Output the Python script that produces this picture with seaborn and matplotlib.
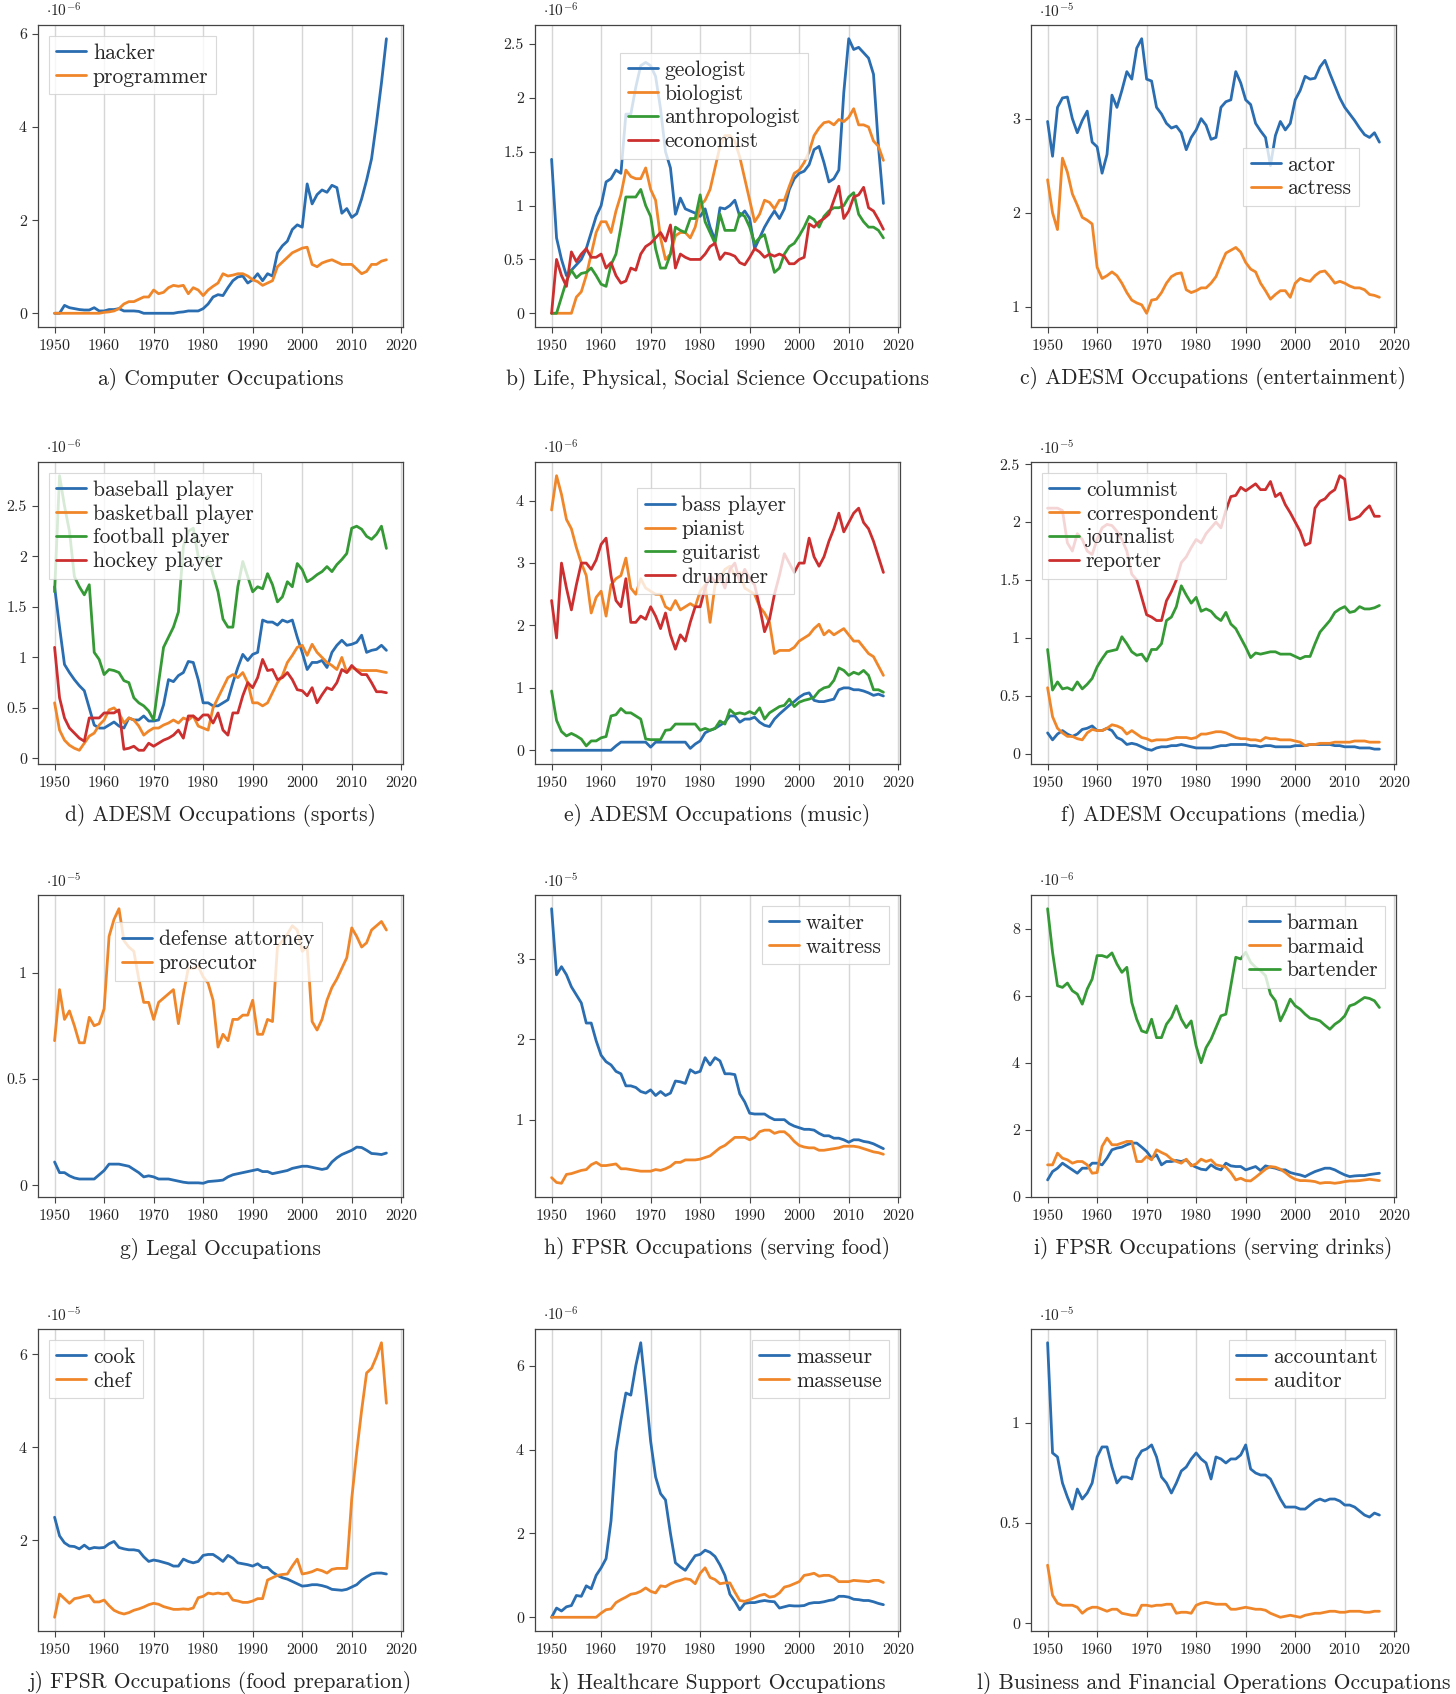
import numpy as np
import pandas as pd
import matplotlib
matplotlib.use("Agg")
import matplotlib.pyplot as plt
import seaborn as sns
from matplotlib.ticker import MultipleLocator, FuncFormatter

years = list(range(1950, 2018))

# ---------------- data (values in units of the panel multiplier) ----------------
hacker = [0, 0, 0.17, 0.12, 0.1, 0.08, 0.07, 0.07, 0.12, 0.05,
          0.05, 0.08, 0.08, 0.1, 0.05, 0.05, 0.05, 0.04, 0.0, 0.0,
          0.0, 0.0, 0.0, 0.0, 0.0, 0.02, 0.03, 0.05, 0.05, 0.05,
          0.1, 0.2, 0.35, 0.4, 0.38, 0.55, 0.7, 0.78, 0.8, 0.65,
          0.72, 0.85, 0.7, 0.85, 0.8, 1.3, 1.45, 1.55, 1.8, 1.9,
          1.85, 2.78, 2.35, 2.55, 2.65, 2.6, 2.75, 2.7, 2.15, 2.25,
          2.06, 2.14, 2.46, 2.86, 3.32, 4.1, 4.95, 5.9]
programmer = [0, 0, 0, 0, 0, 0, 0, 0, 0, 0,
              0.02, 0.03, 0.05, 0.1, 0.2, 0.25, 0.25, 0.3, 0.35, 0.35,
              0.5, 0.42, 0.45, 0.55, 0.6, 0.58, 0.6, 0.42, 0.55, 0.5,
              0.38, 0.5, 0.58, 0.65, 0.85, 0.8, 0.82, 0.85, 0.85, 0.8,
              0.72, 0.68, 0.6, 0.65, 0.7, 1.0, 1.1, 1.2, 1.3, 1.35,
              1.4, 1.42, 1.05, 1.0, 1.08, 1.12, 1.15, 1.1, 1.05, 1.05,
              1.05, 0.95, 0.85, 0.9, 1.05, 1.05, 1.12, 1.15]

geologist = [1.43, 0.7, 0.5, 0.35, 0.4, 0.45, 0.5, 0.6, 0.75, 0.9,
             1.0, 1.22, 1.25, 1.33, 1.3, 1.85, 1.85, 2.1, 2.3, 2.33,
             2.3, 2.2, 1.9, 1.5, 1.35, 0.92, 1.07, 0.97, 0.95, 0.93,
             0.9, 0.97, 0.8, 0.68, 0.98, 0.97, 1.0, 1.05, 0.9, 0.95,
             0.88, 0.6, 0.7, 0.8, 0.88, 0.95, 0.88, 0.97, 1.15, 1.25,
             1.3, 1.32, 1.38, 1.52, 1.55, 1.4, 1.22, 1.25, 1.33, 2.05,
             2.55, 2.45, 2.47, 2.42, 2.37, 2.22, 1.55, 1.02]
biologist = [0, 0, 0, 0, 0, 0.15, 0.2, 0.35, 0.55, 0.75,
             0.85, 0.85, 0.75, 0.95, 1.1, 1.33, 1.27, 1.25, 1.25, 1.35,
             1.15, 1.05, 0.7, 0.5, 0.55, 0.72, 0.75, 0.75, 0.7, 0.8,
             1.0, 1.05, 1.15, 1.35, 1.55, 1.65, 1.65, 1.6, 1.45, 1.25,
             1.05, 0.85, 0.92, 1.05, 1.03, 0.97, 1.05, 1.05, 1.18, 1.3,
             1.33, 1.4, 1.5, 1.65, 1.72, 1.77, 1.78, 1.75, 1.8, 1.78,
             1.82, 1.9, 1.75, 1.75, 1.73, 1.6, 1.55, 1.42]
anthropologist = [0, 0, 0.15, 0.3, 0.4, 0.33, 0.37, 0.38, 0.42, 0.35,
                  0.27, 0.25, 0.45, 0.55, 0.8, 1.08, 1.08, 1.08, 1.15, 1.0,
                  0.9, 0.6, 0.42, 0.42, 0.55, 0.8, 0.77, 0.75, 0.88, 0.88,
                  1.1, 0.85, 0.75, 0.65, 0.92, 0.77, 0.77, 0.77, 0.93, 0.9,
                  0.8, 0.65, 0.7, 0.73, 0.55, 0.38, 0.42, 0.55, 0.62, 0.65,
                  0.72, 0.8, 0.9, 0.87, 0.8, 0.9, 0.95, 0.98, 0.98, 1.0,
                  1.08, 1.12, 0.92, 0.85, 0.8, 0.8, 0.77, 0.7]
economist = [0, 0.5, 0.35, 0.25, 0.57, 0.48, 0.55, 0.6, 0.52, 0.52,
             0.55, 0.42, 0.47, 0.35, 0.28, 0.3, 0.42, 0.4, 0.55, 0.62,
             0.65, 0.7, 0.75, 0.67, 0.82, 0.42, 0.55, 0.52, 0.5, 0.5,
             0.5, 0.55, 0.62, 0.65, 0.5, 0.56, 0.55, 0.53, 0.47, 0.45,
             0.52, 0.6, 0.57, 0.52, 0.55, 0.53, 0.55, 0.53, 0.46, 0.46,
             0.5, 0.52, 0.83, 0.8, 0.85, 0.88, 0.92, 1.05, 1.18, 0.88,
             0.95, 1.08, 1.1, 1.17, 0.98, 0.95, 0.87, 0.78]

actor = [2.97, 2.6, 3.12, 3.22, 3.23, 3.0, 2.85, 2.98, 3.08, 2.75,
         2.7, 2.42, 2.62, 3.25, 3.12, 3.3, 3.5, 3.42, 3.75, 3.85,
         3.42, 3.4, 3.12, 3.05, 2.95, 2.9, 2.92, 2.85, 2.67, 2.8,
         2.88, 3.0, 2.93, 2.78, 2.8, 3.12, 3.18, 3.2, 3.5, 3.38,
         3.2, 3.15, 2.95, 2.87, 2.8, 2.5, 2.82, 2.97, 2.88, 2.95,
         3.2, 3.3, 3.45, 3.42, 3.43, 3.55, 3.62, 3.48, 3.35, 3.22,
         3.12, 3.05, 2.98, 2.9, 2.83, 2.8, 2.85, 2.75]
actress = [2.35, 2.0, 1.82, 2.58, 2.43, 2.2, 2.08, 1.95, 1.92, 1.88,
           1.42, 1.3, 1.33, 1.37, 1.33, 1.25, 1.15, 1.07, 1.04, 1.02,
           0.93, 1.07, 1.08, 1.15, 1.25, 1.32, 1.35, 1.36, 1.18, 1.15,
           1.17, 1.2, 1.2, 1.25, 1.32, 1.45, 1.57, 1.6, 1.63, 1.58,
           1.47, 1.4, 1.37, 1.25, 1.17, 1.08, 1.13, 1.17, 1.17, 1.1,
           1.25, 1.3, 1.28, 1.27, 1.33, 1.37, 1.38, 1.32, 1.25, 1.27,
           1.25, 1.22, 1.2, 1.2, 1.18, 1.13, 1.12, 1.1]

baseball = [1.7, 1.3, 0.93, 0.85, 0.78, 0.72, 0.67, 0.5, 0.33, 0.3,
            0.3, 0.33, 0.36, 0.32, 0.3, 0.4, 0.38, 0.38, 0.42, 0.37,
            0.37, 0.38, 0.53, 0.78, 0.76, 0.82, 0.85, 0.96, 0.95, 0.78,
            0.55, 0.55, 0.52, 0.52, 0.55, 0.58, 0.75, 0.9, 1.03, 0.97,
            1.03, 1.05, 1.37, 1.35, 1.35, 1.32, 1.37, 1.35, 1.37, 1.2,
            1.05, 0.88, 0.95, 0.95, 0.97, 0.9, 1.05, 1.12, 1.17, 1.12,
            1.13, 1.15, 1.22, 1.05, 1.07, 1.08, 1.12, 1.07]
basketball = [0.55, 0.28, 0.18, 0.13, 0.1, 0.08, 0.15, 0.22, 0.25, 0.33,
              0.38, 0.48, 0.5, 0.45, 0.35, 0.4, 0.38, 0.32, 0.23, 0.27,
              0.3, 0.3, 0.33, 0.35, 0.38, 0.35, 0.4, 0.38, 0.42, 0.32,
              0.3, 0.28, 0.5, 0.6, 0.7, 0.8, 0.83, 0.8, 0.85, 0.75,
              0.55, 0.55, 0.52, 0.55, 0.65, 0.75, 0.82, 0.95, 1.02, 1.1,
              1.12, 1.02, 1.13, 1.05, 1.0, 0.95, 0.92, 0.88, 1.0, 0.85,
              0.9, 0.88, 0.87, 0.87, 0.87, 0.87, 0.86, 0.85]
football = [1.65, 2.8, 2.5, 2.25, 1.8, 1.7, 1.62, 1.72, 1.05, 0.98,
            0.83, 0.88, 0.87, 0.85, 0.77, 0.75, 0.6, 0.55, 0.52, 0.47,
            0.38, 0.75, 1.1, 1.2, 1.3, 1.45, 2.1, 2.25, 2.28, 2.0,
            1.97, 2.0, 1.82, 1.65, 1.38, 1.3, 1.3, 1.7, 1.95, 1.8,
            1.65, 1.7, 1.68, 1.83, 1.72, 1.55, 1.6, 1.75, 1.7, 1.93,
            1.87, 1.75, 1.78, 1.82, 1.85, 1.9, 1.85, 1.92, 1.97, 2.03,
            2.28, 2.3, 2.27, 2.2, 2.17, 2.22, 2.3, 2.08]
hockey = [1.1, 0.6, 0.4, 0.3, 0.25, 0.2, 0.17, 0.4, 0.4, 0.4,
          0.45, 0.45, 0.45, 0.48, 0.09, 0.1, 0.12, 0.08, 0.08, 0.15,
          0.12, 0.15, 0.18, 0.2, 0.23, 0.28, 0.2, 0.42, 0.42, 0.38,
          0.43, 0.43, 0.35, 0.45, 0.28, 0.23, 0.45, 0.45, 0.62, 0.75,
          0.7, 0.8, 0.98, 0.87, 0.88, 0.78, 0.8, 0.85, 0.78, 0.68,
          0.67, 0.62, 0.7, 0.55, 0.63, 0.7, 0.68, 0.75, 0.88, 0.85,
          0.92, 0.87, 0.83, 0.83, 0.75, 0.66, 0.66, 0.65]

bass_player = [0, 0, 0, 0, 0, 0, 0, 0, 0, 0,
               0, 0, 0, 0.07, 0.13, 0.13, 0.13, 0.13, 0.13, 0.13,
               0.05, 0.13, 0.13, 0.13, 0.13, 0.13, 0.13, 0.13, 0.03, 0.1,
               0.15, 0.28, 0.32, 0.35, 0.4, 0.45, 0.55, 0.55, 0.45, 0.5,
               0.5, 0.53, 0.45, 0.4, 0.38, 0.5, 0.58, 0.65, 0.72, 0.78,
               0.85, 0.9, 0.92, 0.8, 0.78, 0.78, 0.8, 0.82, 0.97, 1.0,
               1.0, 0.97, 0.97, 0.95, 0.92, 0.88, 0.9, 0.87]
pianist = [3.85, 4.4, 4.1, 3.7, 3.55, 3.25, 3.0, 2.8, 2.2, 2.45,
           2.55, 2.15, 2.65, 2.75, 2.8, 3.08, 2.6, 2.5, 2.75, 2.6,
           2.55, 2.5, 2.5, 2.3, 2.25, 2.4, 2.25, 2.3, 2.35, 2.3,
           2.55, 2.65, 2.05, 2.65, 2.75, 2.9, 2.95, 2.8, 2.85, 2.6,
           2.55, 2.5, 2.3, 2.2, 2.05, 1.55, 1.6, 1.6, 1.6, 1.65,
           1.75, 1.8, 1.85, 1.95, 2.02, 1.85, 1.92, 1.85, 1.9, 1.95,
           1.85, 1.75, 1.75, 1.65, 1.55, 1.5, 1.35, 1.2]
guitarist = [0.95, 0.48, 0.3, 0.23, 0.27, 0.23, 0.18, 0.07, 0.15, 0.15,
             0.2, 0.22, 0.55, 0.57, 0.67, 0.6, 0.6, 0.55, 0.5, 0.18,
             0.17, 0.17, 0.17, 0.32, 0.33, 0.42, 0.42, 0.42, 0.42, 0.42,
             0.32, 0.35, 0.32, 0.35, 0.47, 0.42, 0.65, 0.58, 0.6, 0.58,
             0.62, 0.58, 0.68, 0.5, 0.6, 0.65, 0.7, 0.72, 0.82, 0.7,
             0.77, 0.8, 0.82, 0.85, 0.95, 1.0, 1.02, 1.12, 1.32, 1.28,
             1.2, 1.25, 1.22, 1.28, 1.2, 0.97, 0.97, 0.93]
drummer = [2.4, 1.8, 3.0, 2.6, 2.25, 2.65, 3.0, 3.0, 2.9, 3.05,
           3.3, 3.4, 2.8, 2.4, 2.3, 2.75, 2.05, 2.05, 2.15, 2.1,
           2.3, 2.15, 1.95, 2.2, 1.85, 1.62, 1.85, 1.75, 2.05, 2.3,
           2.3, 2.6, 2.8, 2.7, 2.8, 2.6, 2.9, 3.0, 2.7, 2.9,
           2.75, 2.65, 2.3, 1.9, 2.1, 2.5, 2.8, 3.15, 3.0, 2.85,
           3.0, 3.0, 3.4, 3.1, 2.95, 3.1, 3.35, 3.55, 3.8, 3.5,
           3.65, 3.8, 3.88, 3.65, 3.55, 3.35, 3.1, 2.85]

columnist = [0.18, 0.12, 0.17, 0.2, 0.17, 0.15, 0.17, 0.21, 0.22, 0.24,
             0.2, 0.2, 0.22, 0.2, 0.14, 0.12, 0.08, 0.09, 0.08, 0.06,
             0.04, 0.03, 0.05, 0.06, 0.06, 0.07, 0.07, 0.08, 0.07, 0.06,
             0.05, 0.05, 0.05, 0.05, 0.06, 0.07, 0.07, 0.08, 0.08, 0.08,
             0.08, 0.07, 0.07, 0.06, 0.07, 0.07, 0.06, 0.06, 0.06, 0.06,
             0.07, 0.07, 0.07, 0.08, 0.08, 0.08, 0.08, 0.08, 0.07, 0.07,
             0.06, 0.06, 0.06, 0.05, 0.05, 0.05, 0.04, 0.04]
correspondent = [0.57, 0.32, 0.22, 0.18, 0.15, 0.15, 0.13, 0.12, 0.18, 0.21,
                 0.2, 0.2, 0.22, 0.25, 0.24, 0.22, 0.17, 0.2, 0.17, 0.14,
                 0.13, 0.11, 0.12, 0.12, 0.12, 0.13, 0.14, 0.14, 0.14, 0.13,
                 0.14, 0.17, 0.17, 0.18, 0.19, 0.19, 0.18, 0.16, 0.14, 0.13,
                 0.13, 0.12, 0.12, 0.11, 0.14, 0.13, 0.13, 0.12, 0.12, 0.12,
                 0.11, 0.1, 0.07, 0.08, 0.08, 0.09, 0.09, 0.09, 0.1, 0.1,
                 0.1, 0.1, 0.11, 0.11, 0.11, 0.1, 0.1, 0.1]
journalist = [0.9, 0.55, 0.62, 0.56, 0.57, 0.55, 0.62, 0.56, 0.6, 0.65,
              0.75, 0.82, 0.88, 0.89, 0.9, 1.01, 0.95, 0.88, 0.85, 0.86,
              0.8, 0.9, 0.9, 0.95, 1.15, 1.18, 1.27, 1.45, 1.37, 1.3,
              1.35, 1.23, 1.25, 1.23, 1.18, 1.15, 1.22, 1.12, 1.08, 1.0,
              0.92, 0.83, 0.87, 0.86, 0.87, 0.88, 0.88, 0.86, 0.86, 0.86,
              0.84, 0.82, 0.84, 0.84, 0.95, 1.05, 1.1, 1.15, 1.22, 1.25,
              1.27, 1.22, 1.23, 1.27, 1.25, 1.25, 1.26, 1.28]
reporter = [2.12, 2.12, 2.12, 2.1, 1.82, 1.75, 1.9, 1.85, 1.75, 1.72,
            1.85, 1.95, 1.98, 1.97, 1.92, 1.85, 1.75, 1.55, 1.5, 1.35,
            1.2, 1.18, 1.15, 1.15, 1.32, 1.4, 1.5, 1.65, 1.7, 1.78,
            1.85, 1.82, 1.9, 1.95, 2.0, 1.95, 2.1, 2.22, 2.23, 2.3,
            2.27, 2.3, 2.33, 2.28, 2.28, 2.35, 2.22, 2.25, 2.15, 2.08,
            2.0, 1.92, 1.8, 1.82, 2.12, 2.18, 2.2, 2.25, 2.28, 2.4,
            2.37, 2.02, 2.03, 2.05, 2.1, 2.14, 2.05, 2.05]

defense_attorney = [0.11, 0.06, 0.06, 0.045, 0.035, 0.03, 0.03, 0.03, 0.03, 0.05,
                    0.07, 0.1, 0.1, 0.1, 0.095, 0.09, 0.075, 0.06, 0.04, 0.045,
                    0.04, 0.03, 0.03, 0.03, 0.025, 0.02, 0.015, 0.012, 0.012, 0.012,
                    0.01, 0.018, 0.02, 0.022, 0.025, 0.04, 0.05, 0.055, 0.06, 0.065,
                    0.07, 0.075, 0.065, 0.065, 0.055, 0.06, 0.065, 0.07, 0.08, 0.085,
                    0.09, 0.09, 0.085, 0.08, 0.075, 0.08, 0.11, 0.13, 0.145, 0.155,
                    0.165, 0.18, 0.178, 0.165, 0.15, 0.148, 0.145, 0.152]
prosecutor = [0.68, 0.92, 0.78, 0.82, 0.75, 0.67, 0.67, 0.79, 0.75, 0.76,
              0.83, 1.17, 1.25, 1.3, 1.15, 1.12, 1.1, 0.97, 0.86, 0.86,
              0.78, 0.86, 0.88, 0.9, 0.92, 0.76, 0.9, 1.02, 1.02, 1.03,
              0.98, 0.95, 0.87, 0.65, 0.71, 0.68, 0.78, 0.78, 0.8, 0.8,
              0.87, 0.71, 0.71, 0.78, 0.77, 1.12, 1.15, 1.18, 1.22, 1.2,
              1.1, 1.12, 0.77, 0.73, 0.78, 0.87, 0.93, 0.97, 1.02, 1.07,
              1.21, 1.17, 1.12, 1.14, 1.2, 1.22, 1.24, 1.2]

waiter = [3.62, 2.8, 2.9, 2.8, 2.65, 2.55, 2.45, 2.2, 2.2, 1.98,
          1.8, 1.72, 1.68, 1.6, 1.57, 1.42, 1.42, 1.4, 1.35, 1.33,
          1.37, 1.3, 1.35, 1.3, 1.33, 1.48, 1.47, 1.45, 1.62, 1.58,
          1.6, 1.77, 1.68, 1.77, 1.73, 1.57, 1.57, 1.56, 1.32, 1.22,
          1.08, 1.07, 1.07, 1.07, 1.03, 1.0, 1.0, 1.0, 0.95, 0.92,
          0.9, 0.88, 0.88, 0.87, 0.83, 0.8, 0.8, 0.77, 0.77, 0.75,
          0.72, 0.75, 0.75, 0.73, 0.72, 0.7, 0.67, 0.64]
waitress = [0.28, 0.22, 0.21, 0.32, 0.33, 0.35, 0.37, 0.38, 0.44, 0.47,
            0.43, 0.43, 0.44, 0.45, 0.39, 0.39, 0.38, 0.37, 0.36, 0.36,
            0.36, 0.38, 0.37, 0.39, 0.42, 0.47, 0.47, 0.5, 0.5, 0.5,
            0.51, 0.53, 0.55, 0.6, 0.65, 0.68, 0.73, 0.78, 0.78, 0.78,
            0.75, 0.78, 0.85, 0.87, 0.87, 0.83, 0.85, 0.85, 0.8, 0.73,
            0.68, 0.66, 0.65, 0.65, 0.62, 0.62, 0.63, 0.64, 0.65, 0.67,
            0.67, 0.67, 0.66, 0.64, 0.62, 0.6, 0.59, 0.57]

barman = [0.5, 0.75, 0.85, 1.0, 0.9, 0.8, 0.7, 0.85, 0.85, 1.0,
          1.0, 0.95, 1.15, 1.4, 1.45, 1.48, 1.55, 1.6, 1.6, 1.48,
          1.35, 1.15, 1.25, 0.95, 1.05, 1.05, 1.08, 1.05, 1.1, 0.95,
          0.88, 0.82, 0.8, 0.95, 0.85, 0.8, 1.0, 0.92, 0.9, 0.9,
          0.8, 0.85, 0.9, 0.78, 0.92, 0.88, 0.85, 0.8, 0.8, 0.72,
          0.68, 0.65, 0.6, 0.68, 0.75, 0.8, 0.85, 0.85, 0.8, 0.72,
          0.65, 0.6, 0.62, 0.63, 0.63, 0.66, 0.68, 0.7]
barmaid = [0.95, 0.95, 1.3, 1.15, 1.1, 1.0, 1.05, 1.05, 0.95, 0.7,
           0.72, 1.5, 1.75, 1.55, 1.55, 1.6, 1.65, 1.65, 1.05, 1.05,
           1.2, 1.1, 1.4, 1.32, 1.25, 1.12, 1.05, 1.0, 1.12, 0.92,
           0.98, 1.12, 1.05, 1.1, 0.95, 0.92, 0.88, 0.72, 0.5, 0.55,
           0.48, 0.47, 0.58, 0.7, 0.82, 0.9, 0.88, 0.82, 0.72, 0.6,
           0.52, 0.48, 0.48, 0.47, 0.45, 0.4, 0.42, 0.42, 0.4, 0.42,
           0.45, 0.47, 0.47, 0.48, 0.5, 0.52, 0.5, 0.48]
bartender = [8.6, 7.3, 6.3, 6.25, 6.38, 6.15, 6.05, 5.75, 6.2, 6.5,
             7.2, 7.2, 7.15, 7.28, 6.95, 6.7, 6.85, 5.8, 5.3, 4.95,
             4.9, 5.3, 4.75, 4.75, 5.15, 5.35, 5.7, 5.3, 5.05, 5.25,
             4.5, 4.0, 4.45, 4.7, 5.05, 5.4, 5.45, 6.3, 7.15, 7.1,
             7.3, 7.0, 6.85, 6.75, 6.6, 6.05, 5.85, 5.25, 5.55, 5.9,
             5.7, 5.6, 5.45, 5.33, 5.3, 5.25, 5.12, 5.0, 5.15, 5.25,
             5.4, 5.7, 5.75, 5.85, 5.95, 5.92, 5.85, 5.65]

cook = [2.5, 2.1, 1.95, 1.88, 1.87, 1.82, 1.9, 1.82, 1.85, 1.84,
        1.85, 1.93, 1.98, 1.85, 1.82, 1.8, 1.8, 1.78, 1.65, 1.55,
        1.58, 1.56, 1.53, 1.5, 1.45, 1.45, 1.6, 1.55, 1.52, 1.55,
        1.68, 1.7, 1.7, 1.63, 1.55, 1.68, 1.62, 1.52, 1.5, 1.48,
        1.45, 1.5, 1.42, 1.42, 1.32, 1.25, 1.2, 1.17, 1.12, 1.07,
        1.02, 1.03, 1.05, 1.05, 1.03, 1.0, 0.95, 0.94, 0.93, 0.95,
        1.0, 1.05, 1.15, 1.22, 1.28, 1.3, 1.3, 1.28]
chef = [0.35, 0.85, 0.75, 0.65, 0.75, 0.77, 0.8, 0.82, 0.68, 0.68,
        0.72, 0.6, 0.5, 0.45, 0.42, 0.45, 0.5, 0.53, 0.57, 0.62,
        0.65, 0.63, 0.58, 0.55, 0.52, 0.52, 0.53, 0.52, 0.55, 0.77,
        0.8, 0.87, 0.85, 0.87, 0.85, 0.87, 0.72, 0.7, 0.67, 0.67,
        0.7, 0.75, 0.75, 1.15, 1.2, 1.25, 1.27, 1.28, 1.45, 1.6,
        1.28, 1.3, 1.33, 1.38, 1.35, 1.3, 1.38, 1.4, 1.4, 1.4,
        2.9, 3.9, 4.8, 5.6, 5.7, 5.95, 6.25, 4.95]

masseur = [0, 0.22, 0.15, 0.25, 0.28, 0.52, 0.5, 0.75, 0.68, 1.0,
           1.18, 1.4, 2.3, 3.95, 4.7, 5.35, 5.3, 6.0, 6.55, 5.4,
           4.2, 3.35, 2.95, 2.8, 2.0, 1.3, 1.2, 1.12, 1.3, 1.47,
           1.5, 1.6, 1.55, 1.45, 1.25, 1.0, 0.55, 0.38, 0.18, 0.33,
           0.35, 0.35, 0.38, 0.4, 0.38, 0.37, 0.22, 0.25, 0.28, 0.27,
           0.27, 0.28, 0.33, 0.35, 0.35, 0.37, 0.4, 0.42, 0.5, 0.5,
           0.48, 0.43, 0.42, 0.4, 0.4, 0.37, 0.33, 0.3]
masseuse = [0, 0, 0, 0, 0, 0, 0, 0, 0, 0,
            0.1, 0.18, 0.2, 0.35, 0.42, 0.48, 0.55, 0.57, 0.62, 0.7,
            0.62, 0.58, 0.75, 0.73, 0.8, 0.85, 0.88, 0.92, 0.9, 0.8,
            1.05, 1.18, 0.95, 0.9, 0.8, 0.82, 0.82, 0.6, 0.4, 0.38,
            0.42, 0.47, 0.52, 0.55, 0.48, 0.5, 0.58, 0.72, 0.75, 0.8,
            0.85, 1.0, 1.02, 1.05, 0.98, 1.0, 1.0, 0.95, 0.85, 0.85,
            0.85, 0.88, 0.87, 0.86, 0.85, 0.88, 0.88, 0.83]

accountant = [1.4, 0.85, 0.83, 0.7, 0.63, 0.57, 0.67, 0.62, 0.65, 0.7,
              0.83, 0.88, 0.88, 0.78, 0.7, 0.73, 0.73, 0.72, 0.82, 0.86,
              0.87, 0.89, 0.83, 0.73, 0.7, 0.65, 0.7, 0.76, 0.78, 0.82,
              0.85, 0.82, 0.8, 0.72, 0.83, 0.82, 0.8, 0.82, 0.82, 0.84,
              0.89, 0.77, 0.75, 0.74, 0.74, 0.72, 0.67, 0.62, 0.58, 0.58,
              0.58, 0.57, 0.57, 0.59, 0.61, 0.62, 0.61, 0.62, 0.62, 0.61,
              0.59, 0.59, 0.58, 0.56, 0.54, 0.53, 0.55, 0.54]
auditor = [0.29, 0.14, 0.1, 0.09, 0.09, 0.09, 0.08, 0.05, 0.07, 0.08,
           0.08, 0.07, 0.06, 0.07, 0.07, 0.05, 0.045, 0.04, 0.04, 0.09,
           0.09, 0.085, 0.09, 0.09, 0.095, 0.095, 0.05, 0.055, 0.055, 0.05,
           0.09, 0.1, 0.105, 0.1, 0.095, 0.095, 0.095, 0.07, 0.07, 0.075,
           0.08, 0.075, 0.07, 0.07, 0.065, 0.05, 0.04, 0.03, 0.035, 0.04,
           0.035, 0.03, 0.04, 0.045, 0.05, 0.05, 0.055, 0.06, 0.06, 0.055,
           0.055, 0.06, 0.06, 0.06, 0.055, 0.055, 0.06, 0.06]

panel_titles = ["a) Computer Occupations",
                "b) Life, Physical, Social Science Occupations",
                "c) ADESM Occupations (entertainment)",
                "d) ADESM Occupations (sports)",
                "e) ADESM Occupations (music)",
                "f) ADESM Occupations (media)",
                "g) Legal Occupations",
                "h) FPSR Occupations (serving food)",
                "i) FPSR Occupations (serving drinks)",
                "j) FPSR Occupations (food preparation)",
                "k) Healthcare Support Occupations",
                "l) Business and Financial Operations Occupations"]
panel_series = [
    [("hacker", hacker), ("programmer", programmer)],
    [("geologist", geologist), ("biologist", biologist),
     ("anthropologist", anthropologist), ("economist", economist)],
    [("actor", actor), ("actress", actress)],
    [("baseball player", baseball), ("basketball player", basketball),
     ("football player", football), ("hockey player", hockey)],
    [("bass player", bass_player), ("pianist", pianist),
     ("guitarist", guitarist), ("drummer", drummer)],
    [("columnist", columnist), ("correspondent", correspondent),
     ("journalist", journalist), ("reporter", reporter)],
    [("defense attorney", defense_attorney), ("prosecutor", prosecutor)],
    [("waiter", waiter), ("waitress", waitress)],
    [("barman", barman), ("barmaid", barmaid), ("bartender", bartender)],
    [("cook", cook), ("chef", chef)],
    [("masseur", masseur), ("masseuse", masseuse)],
    [("accountant", accountant), ("auditor", auditor)],
]
panel_exponents = [-6, -6, -5, -6, -6, -5, -5, -5, -6, -5, -6, -5]
panel_ysteps = [2, 0.5, 1, 0.5, 1, 0.5, 0.5, 1, 2, 2, 2, 0.5]

# legend placement: (loc, anchor) ; anchor None -> default axes box
legend_place = [
    ("upper left", None),
    ("upper left", (0.233, 0.908)),
    ("upper left", (0.582, 0.594)),
    ("upper left", None),
    ("upper left", (0.28, 0.913)),
    ("upper left", None),
    ("upper left", (0.21, 0.91)),
    ("upper right", None),
    ("upper right", None),
    ("upper left", None),
    ("upper right", None),
    ("upper right", None),
]

# ---------------- style ----------------
sns.set_style("ticks")
plt.rcParams["font.family"] = ["cmr10", "DejaVu Serif"]
plt.rcParams["mathtext.fontset"] = "cm"
plt.rcParams["axes.unicode_minus"] = False
plt.rcParams["axes.formatter.use_mathtext"] = True

palette = ["#2a6db0", "#f0862a", "#359a35", "#cc2f2f"]

FIG_W, FIG_H = 1456, 1694
fig = plt.figure(figsize=(FIG_W / 100, FIG_H / 100), dpi=100)

col_left = [38, 535, 1031]
row_top = [25, 462, 895, 1329]
AX_W, AX_H = 365, 302

fmt = FuncFormatter(lambda v, p: "%g" % round(v, 6))

for i in range(12):
    r, c = divmod(i, 3)
    ax = fig.add_axes([col_left[c] / FIG_W, 1 - (row_top[r] + AX_H) / FIG_H,
                       AX_W / FIG_W, AX_H / FIG_H])
    names = [n for n, _ in panel_series[i]]
    frames = []
    for n, vals in panel_series[i]:
        frames.append(pd.DataFrame({"year": years, "value": vals, "occupation": n}))
    df = pd.concat(frames, ignore_index=True)
    sns.lineplot(data=df, x="year", y="value", hue="occupation",
                 hue_order=names, palette=palette[:len(names)],
                 linewidth=2.0, errorbar=None, ax=ax)

    ax.set_xlabel("")
    ax.set_ylabel("")
    ax.set_xticks(list(range(1950, 2021, 10)))
    ax.yaxis.set_major_locator(MultipleLocator(panel_ysteps[i]))
    ax.yaxis.set_major_formatter(fmt)
    ax.grid(axis="x", color="#d6d6d6", linewidth=1.0)
    ax.grid(axis="y", visible=False)
    ax.set_axisbelow(True)
    ax.tick_params(axis="both", direction="out", length=4, width=0.8,
                   color="#444444", labelsize=11.5, pad=4)
    for sp in ax.spines.values():
        sp.set_color("#444444")
        sp.set_linewidth(0.9)

    ax.text(0.022, 1.018, r"$\cdot10^{%d}$" % panel_exponents[i],
            transform=ax.transAxes, ha="left", va="bottom", fontsize=11)
    ax.text(0.5, -0.172, panel_titles[i], transform=ax.transAxes,
            ha="center", va="center", fontsize=15.5)

    handles, labels = ax.get_legend_handles_labels()
    loc, anchor = legend_place[i]
    kw = dict(loc=loc, fontsize=15.5, frameon=True, fancybox=False,
              framealpha=0.8, edgecolor="#d0d0d0", handlelength=1.4,
              handletextpad=0.3, labelspacing=0.2, borderpad=0.35)
    if anchor is not None:
        kw["bbox_to_anchor"] = anchor
        kw["borderaxespad"] = 0.0
    else:
        kw["borderaxespad"] = 0.5
    leg = ax.legend(handles, labels, **kw)
    leg.get_frame().set_linewidth(0.8)
    for h in leg.legend_handles:
        h.set_linewidth(2.0)

fig.savefig("out.png", dpi=100)
